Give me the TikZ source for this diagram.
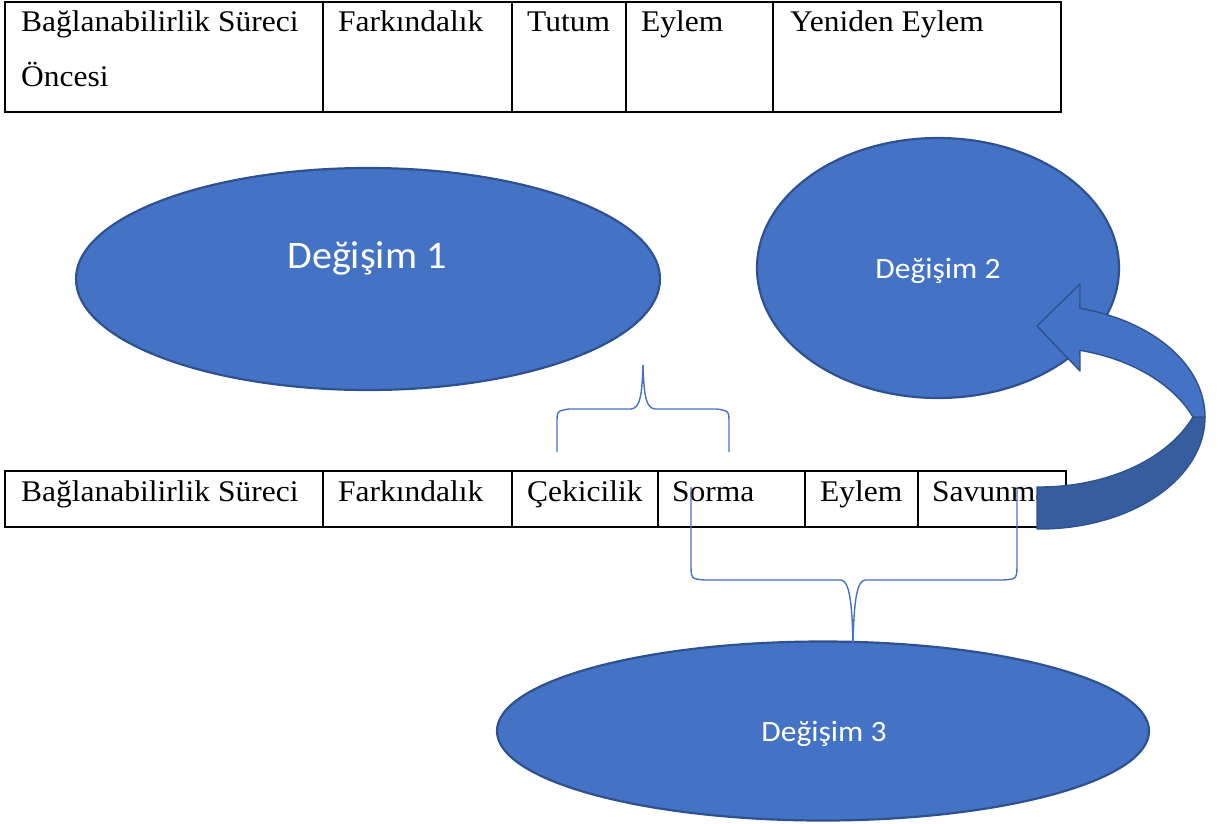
\documentclass[tikz,border=0pt]{standalone}
\usepackage{fontspec}
\setmainfont{Liberation Serif}
\newfontfamily\labelfont{Carlito}
\usetikzlibrary{shapes.geometric}
\definecolor{officeblue}{HTML}{4472C4}
\definecolor{officeedge}{HTML}{2F528F}
\definecolor{officeshade}{RGB}{54,94,158}
% text in this figure is set slightly wider than its height
\newcommand{\hstretch}[2][1.05]{\scalebox{#1}[1]{#2}}

\begin{document}
\begin{tikzpicture}[x=1pt,y=-1pt,
  tablerule/.style={draw=black, line width=1.8pt},
  celltext/.style={inner sep=0pt, anchor=base west, font=\fontsize{30}{36}\selectfont},
  blob/.style={ellipse, draw=officeedge, fill=officeblue, line width=2.2pt, inner sep=0pt},
  bloblabel/.style={inner sep=0pt, anchor=base, text=white},
  bracket/.style={draw=officeblue, line width=1.4pt},
  bandlight/.style={fill=officeblue, draw=officeedge, line width=1.4pt, line join=round},
  banddark/.style={fill=officeshade, draw=officeedge, line width=1.4pt, line join=round}]
\useasboundingbox (0,0) rectangle (1218,823);

% ---- upper table: one row, five cells
\draw[tablerule] (5,2) rectangle (1061,112);
\foreach \cx in {323,512,626,773} \draw[tablerule] (\cx,2) -- (\cx,112);
\node[celltext] (a1) at (21,31) {\hstretch{Bağlanabilirlik Süreci}};
\node[celltext] (a1b) at (21,86) {\hstretch{Öncesi}};
\node[celltext] (a2) at (338,31) {\hstretch{Farkındalık}};
\node[celltext] (a3) at (527,31) {\hstretch{Tutum}};
\node[celltext] (a4) at (641,31) {\hstretch{Eylem}};
\node[celltext] (a5) at (790,31) {\hstretch{Yeniden Eylem}};

% ---- lower table: one row, six cells
\draw[tablerule] (5,471) rectangle (1066,527);
\foreach \cx in {323,512,658,805,918} \draw[tablerule] (\cx,471) -- (\cx,527);
\node[celltext] (b1) at (21,501) {\hstretch{Bağlanabilirlik Süreci}};
\node[celltext] (b2) at (338,501) {\hstretch{Farkındalık}};
\node[celltext] (b3) at (527,501) {\hstretch{Çekicilik}};
\node[celltext] (b4) at (672,501) {\hstretch{Sorma}};
\node[celltext] (b5) at (820,501) {\hstretch{Eylem}};
\node[celltext] (b6) at (932,501) {\hstretch{Savunma}};

% ---- the three change ellipses
\node[blob, minimum width=584pt, minimum height=222pt] (d1) at (368,279) {};
\node[bloblabel, font=\labelfont\fontsize{39}{44}\selectfont] (d1t) at (367,268) {\hstretch[1.03]{Değişim 1}};
\node[blob, minimum width=362pt, minimum height=260pt] (d2) at (938,268) {};
\node[bloblabel, font=\labelfont\fontsize{29.5}{34}\selectfont] (d2t) at (938,278) {\hstretch[1.07]{Değişim 2}};
\node[blob, minimum width=652pt, minimum height=179pt] (d3) at (823,731) {};
\node[bloblabel, font=\labelfont\fontsize{29.5}{34}\selectfont] (d3t) at (824,741) {\hstretch[1.07]{Değişim 3}};

% ---- brace over Çekicilik / Sorma, pointing up
\coordinate (u1) at (557,452);
\coordinate (u2) at (729,452);
\coordinate (utip) at (643,365);
\draw[bracket] (u1) -- (557,423) .. controls (557,411) .. (569,409) -- (631,409)
  .. controls (640,408) and (642,396) .. (utip);
\draw[bracket] (u2) -- (729,423) .. controls (729,411) .. (717,409) -- (655,409)
  .. controls (646,408) and (644,396) .. (utip);

% ---- brace under Sorma ... Savunma, pointing down
\coordinate (l1) at (691,487);
\coordinate (l2) at (1017,487);
\coordinate (ltip) at (853,643);
\draw[bracket] (l1) -- (691,563) .. controls (691,579) .. (705,580) -- (841,580)
  .. controls (849,581) and (852,600) .. (ltip);
\draw[bracket] (l2) -- (1017,563) .. controls (1017,579) .. (1003,580) -- (865,580)
  .. controls (857,581) and (854,600) .. (ltip);

% ---- curved arrow from the lower table up to Değişim 2
% lower (back) part of the band
\draw[banddark]
  plot[domain=0:91, samples=40] ({1040+165*cos(\x)},{417+112*sin(\x)})
  -- plot[domain=91:22, samples=40] ({1040+165*cos(\x)},{375+112*sin(\x)})
  -- cycle;
% upper (front) part of the band with the arrowhead
\draw[bandlight]
  plot[domain=-76:0, samples=40] ({1040+165*cos(\x)},{417+112*sin(\x)})
  -- plot[domain=-22:-76, samples=40] ({1040+165*cos(\x)},{459+112*sin(\x)})
  -- (1080,371) -- (1037,326) -- (1080,284) -- cycle;
\end{tikzpicture}
\end{document}
